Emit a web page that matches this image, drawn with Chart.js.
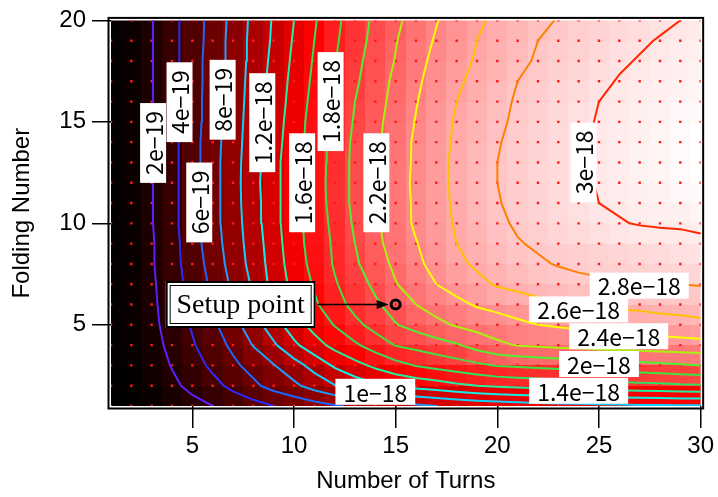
<!DOCTYPE html>
<html>
<head>
<meta charset="utf-8">
<script src="https://cdn.jsdelivr.net/npm/chart.js@4.4.1/dist/chart.umd.min.js"></script>
<style>
  html, body { margin: 0; padding: 0; background: #fff; }
  #wrap { width: 718px; height: 497px; }
</style>
</head>
<body>
<div id="wrap"><canvas id="sensChart" width="718" height="497"></canvas></div>
<script>
// grid axes
const turns = [1, 2, 3, 4, 5, 6, 7, 8, 9, 10, 11, 12, 13, 14, 15, 16, 17, 18, 19, 20, 21, 22, 23, 24, 25, 26, 27, 28, 29, 30];
const folds = [1, 2, 3, 4, 5, 6, 7, 8, 9, 10, 11, 12, 13, 14, 15, 16, 17, 18, 19, 20];

// sensitivity (x1e-18) for each folding number, one value per number of turns
const fold1  = [0.01,0.02,0.05,0.09,0.14,0.20,0.27,0.33,0.40,0.46, 0.52,0.58,0.63,0.67,0.72,0.76,0.80,0.83,0.86,0.88, 0.90,0.92,0.93,0.94,0.95,0.96,0.97,0.97,0.98,0.98];
const fold2  = [0.01,0.03,0.08,0.16,0.25,0.34,0.45,0.56,0.67,0.76, 0.88,0.99,1.09,1.17,1.23,1.27,1.31,1.36,1.40,1.43, 1.45,1.46,1.48,1.50,1.51,1.53,1.54,1.55,1.57,1.58];
const fold3  = [0.01,0.04,0.11,0.21,0.32,0.44,0.56,0.67,0.79,0.92, 1.07,1.23,1.34,1.44,1.53,1.61,1.66,1.71,1.76,1.81, 1.83,1.85,1.87,1.88,1.90,1.92,1.94,1.96,1.98,2.00];
const fold4  = [0.02,0.05,0.13,0.25,0.38,0.51,0.64,0.81,0.97,1.16, 1.32,1.46,1.57,1.69,1.81,1.86,1.92,1.98,2.08,2.16, 2.21,2.23,2.25,2.26,2.28,2.29,2.30,2.31,2.32,2.33];
const fold5  = [0.02,0.06,0.15,0.28,0.42,0.56,0.73,0.91,1.11,1.31, 1.47,1.61,1.75,1.87,1.99,2.07,2.15,2.22,2.27,2.31, 2.36,2.40,2.42,2.44,2.46,2.48,2.49,2.51,2.53,2.55];
const fold6  = [0.02,0.07,0.16,0.30,0.44,0.59,0.79,0.97,1.21,1.42, 1.57,1.72,1.86,1.97,2.08,2.20,2.28,2.35,2.42,2.46, 2.50,2.54,2.58,2.61,2.62,2.64,2.65,2.67,2.68,2.70];
const fold7  = [0.02,0.07,0.17,0.31,0.47,0.64,0.84,1.03,1.27,1.46, 1.62,1.78,1.91,2.04,2.19,2.30,2.40,2.48,2.55,2.62, 2.66,2.70,2.73,2.76,2.77,2.78,2.79,2.80,2.80,2.81];
const fold8  = [0.02,0.08,0.18,0.33,0.49,0.68,0.88,1.07,1.29,1.50, 1.66,1.82,1.97,2.11,2.24,2.36,2.46,2.56,2.63,2.68, 2.73,2.78,2.81,2.83,2.85,2.86,2.87,2.88,2.89,2.90];
const fold9  = [0.02,0.08,0.18,0.33,0.51,0.71,0.90,1.09,1.31,1.52, 1.68,1.83,2.00,2.15,2.28,2.39,2.50,2.60,2.67,2.73, 2.79,2.82,2.84,2.85,2.87,2.89,2.91,2.93,2.95,2.97];
const fold10 = [0.02,0.08,0.19,0.34,0.53,0.73,0.91,1.11,1.33,1.53, 1.69,1.85,2.03,2.17,2.30,2.43,2.53,2.62,2.69,2.77, 2.82,2.85,2.89,2.92,2.96,2.99,3.01,3.02,3.02,3.03];
const fold11 = [0.02,0.08,0.19,0.34,0.53,0.73,0.92,1.12,1.33,1.53, 1.70,1.87,2.05,2.18,2.31,2.43,2.54,2.63,2.71,2.79, 2.84,2.88,2.92,2.96,3.00,3.02,3.03,3.05,3.06,3.08];
const fold12 = [0.02,0.08,0.19,0.34,0.53,0.73,0.92,1.13,1.34,1.53, 1.70,1.88,2.05,2.18,2.31,2.44,2.54,2.64,2.72,2.80, 2.84,2.88,2.93,2.97,3.01,3.03,3.05,3.07,3.10,3.12];
const fold13 = [0.02,0.08,0.19,0.34,0.52,0.72,0.92,1.12,1.33,1.53, 1.70,1.87,2.05,2.17,2.31,2.43,2.54,2.64,2.72,2.80, 2.84,2.89,2.93,2.97,3.01,3.04,3.07,3.09,3.12,3.14];
const fold14 = [0.02,0.08,0.19,0.34,0.52,0.72,0.91,1.11,1.32,1.51, 1.69,1.87,2.04,2.16,2.30,2.43,2.53,2.63,2.71,2.79, 2.84,2.88,2.93,2.97,3.01,3.04,3.07,3.09,3.12,3.15];
const fold15 = [0.02,0.08,0.19,0.34,0.51,0.71,0.90,1.10,1.30,1.50, 1.68,1.85,2.02,2.15,2.28,2.41,2.52,2.62,2.69,2.77, 2.83,2.88,2.92,2.97,3.01,3.03,3.06,3.09,3.11,3.14];
const fold16 = [0.02,0.08,0.19,0.34,0.51,0.70,0.89,1.09,1.28,1.48, 1.66,1.83,2.00,2.13,2.26,2.39,2.50,2.60,2.68,2.75, 2.82,2.86,2.91,2.95,3.00,3.02,3.05,3.07,3.10,3.12];
const fold17 = [0.02,0.08,0.19,0.34,0.51,0.69,0.88,1.08,1.27,1.46, 1.64,1.82,1.97,2.11,2.24,2.37,2.47,2.57,2.65,2.73, 2.80,2.84,2.89,2.93,2.97,3.01,3.03,3.05,3.07,3.09];
const fold18 = [0.02,0.08,0.19,0.34,0.51,0.69,0.87,1.07,1.25,1.44, 1.62,1.79,1.95,2.08,2.21,2.34,2.45,2.54,2.62,2.69, 2.76,2.82,2.86,2.90,2.94,2.98,3.01,3.03,3.05,3.07];
const fold19 = [0.02,0.08,0.19,0.34,0.50,0.68,0.87,1.06,1.23,1.42, 1.60,1.77,1.92,2.06,2.19,2.31,2.42,2.51,2.60,2.67, 2.73,2.80,2.84,2.87,2.91,2.95,2.98,3.01,3.03,3.05];
const fold20 = [0.02,0.09,0.19,0.34,0.50,0.67,0.86,1.05,1.22,1.40, 1.58,1.75,1.90,2.04,2.16,2.28,2.39,2.48,2.57,2.64, 2.70,2.76,2.81,2.85,2.88,2.91,2.94,2.97,3.00,3.02];
const sensitivity = [fold1, fold2, fold3, fold4, fold5, fold6, fold7, fold8, fold9, fold10,
                     fold11, fold12, fold13, fold14, fold15, fold16, fold17, fold18, fold19, fold20];

// contour levels (x1e-18)
const contourLevels = [0.2, 0.4, 0.6, 0.8, 1.0, 1.2, 1.4, 1.6, 1.8, 2.0, 2.2, 2.4, 2.6, 2.8, 3.0];
const xTickValues = [5, 10, 15, 20, 25, 30];
const yTickValues = [5, 10, 15, 20];
const setupPoint = { turns: 15, folds: 6 };

const levelColors = ['#5a1eff', '#2a2aff', '#1a66ff', '#1a9eff', '#10d0ff', '#10f0e0', '#20f0a0', '#30e060',
                     '#40e040', '#50f030', '#a8f010', '#ffff00', '#ffc000', '#ff8000', '#ff2800'];

// label anchors: level, turns, folds, vertical?
const contourLabels = [
  [0.2, 3.07, 13.96, true],
  [0.4, 4.37, 15.97, true],
  [0.6, 5.34, 11.03, true],
  [0.8, 6.49, 16.09, true],
  [1.2, 8.44, 14.96, true],
  [1.6, 10.4, 12.0, true],
  [1.8, 11.8, 16.0, true],
  [2.2, 14.05, 12.0, true],
  [3.0, 24.24, 13.0, true],
  [1.0, 14.0, 1.70, false],
  [1.4, 24.0, 1.75, false],
  [2.0, 25.0, 3.07, false],
  [2.4, 25.97, 4.44, false],
  [2.6, 24.0, 5.76, false],
  [2.8, 26.98, 6.93, false]
];

function levelText(v) {
  if (v < 1) return Math.round(v * 10) + 'e\u221219';
  return (+v.toFixed(1)) + 'e\u221218';
}

// black -> red -> white colour table
const allValues = sensitivity.flat();
const vMin = Math.min(...allValues), vMax = Math.max(...allValues);
function heatColor(v) {
  const t = (v - vMin) / (vMax - vMin);
  if (t < 0.5) return `rgb(${Math.round(510 * t)},0,0)`;
  const w = Math.round(510 * (t - 0.5));
  return `rgb(255,${w},${w})`;
}

// marching squares, segments chained into polylines
function traceContour(level) {
  const nx = turns.length, ny = folds.length;
  const pts = new Map();
  const segs = [];
  const ends = [[0, 1], [1, 2], [3, 2], [0, 3]];
  for (let j = 0; j < ny - 1; j++) {
    for (let i = 0; i < nx - 1; i++) {
      const v = [sensitivity[j][i], sensitivity[j][i + 1], sensitivity[j + 1][i + 1], sensitivity[j + 1][i]];
      const xs = [turns[i], turns[i + 1], turns[i + 1], turns[i]];
      const ys = [folds[j], folds[j], folds[j + 1], folds[j + 1]];
      const keys = [`h${i},${j}`, `v${i + 1},${j}`, `h${i},${j + 1}`, `v${i},${j}`];
      const hit = [];
      for (let e = 0; e < 4; e++) {
        const [a, b] = ends[e];
        if ((v[a] >= level) !== (v[b] >= level)) {
          if (!pts.has(keys[e])) {
            const t = (level - v[a]) / (v[b] - v[a]);
            pts.set(keys[e], { x: xs[a] + t * (xs[b] - xs[a]), y: ys[a] + t * (ys[b] - ys[a]) });
          }
          hit.push(keys[e]);
        }
      }
      if (hit.length === 2) {
        segs.push([hit[0], hit[1]]);
      } else if (hit.length === 4) {
        const centre = (v[0] + v[1] + v[2] + v[3]) / 4;
        if ((centre >= level) === (v[0] >= level)) segs.push([hit[0], hit[1]], [hit[2], hit[3]]);
        else segs.push([hit[0], hit[3]], [hit[1], hit[2]]);
      }
    }
  }

  const adj = new Map();
  segs.forEach((s, k) => s.forEach(key => {
    if (!adj.has(key)) adj.set(key, []);
    adj.get(key).push(k);
  }));
  const used = new Array(segs.length).fill(false);
  const walk = (startKey, chain) => {
    let key = startKey;
    for (;;) {
      const next = (adj.get(key) || []).find(k => !used[k]);
      if (next === undefined) break;
      used[next] = true;
      const s = segs[next];
      key = s[0] === key ? s[1] : s[0];
      chain.push(key);
    }
  };
  const lines = [];
  segs.forEach((s, k) => {
    if (used[k]) return;
    used[k] = true;
    const fwd = [s[0], s[1]];
    walk(s[1], fwd);
    const back = [];
    walk(s[0], back);
    lines.push(back.reverse().concat(fwd).map(key => pts.get(key)));
  });
  return lines;
}

const contourSets = contourLevels.map((level, n) => {
  const data = [];
  traceContour(level).forEach(line => {
    if (data.length) data.push({ x: null, y: null });
    data.push(...line);
  });
  return {
    label: levelText(level),
    data,
    showLine: true,
    spanGaps: false,
    borderColor: levelColors[n],
    borderWidth: 2,
    borderCapStyle: 'round',
    borderJoinStyle: 'round',
    tension: 0,
    pointRadius: 0,
    order: 2
  };
});

const gridDots = [];
folds.forEach(f => turns.forEach(t => gridDots.push({ x: t, y: f })));

// image cells: centred on each turn, each row spans the band just below its folding number
const heatmapPlugin = {
  id: 'heatmap',
  beforeDatasetsDraw(chart) {
    const { ctx, chartArea: a, scales: { x, y } } = chart;
    ctx.save();
    ctx.beginPath();
    ctx.rect(a.left, a.top, a.right - a.left, a.bottom - a.top);
    ctx.clip();
    sensitivity.forEach((row, j) => row.forEach((v, i) => {
      const x0 = Math.round(x.getPixelForValue(turns[i] - 0.5));
      const x1 = Math.round(x.getPixelForValue(turns[i] + 0.5));
      const y0 = Math.round(y.getPixelForValue(folds[j]));
      const y1 = Math.round(y.getPixelForValue(folds[j] - 1));
      ctx.fillStyle = heatColor(v);
      ctx.fillRect(x0, y0, x1 - x0, y1 - y0);
    }));
    ctx.restore();
  }
};

const overlayPlugin = {
  id: 'overlay',
  afterDatasetsDraw(chart) {
    const { ctx, scales: { x, y } } = chart;
    ctx.save();
    // contour labels
    ctx.font = '23px "Noto Sans CJK JP"';
    ctx.textAlign = 'center';
    ctx.textBaseline = 'middle';
    contourLabels.forEach(([lv, t, f, vertical]) => {
      const text = levelText(lv);
      const w = ctx.measureText(text).width + 16, h = 26;
      ctx.save();
      ctx.translate(x.getPixelForValue(t), y.getPixelForValue(f));
      if (vertical) ctx.rotate(-Math.PI / 2);
      ctx.fillStyle = '#fff';
      ctx.fillRect(-w / 2, -h / 2, w, h);
      ctx.fillStyle = '#000';
      ctx.fillText(text, 0, 1);
      ctx.restore();
    });

    // setup point tag with arrow
    const sx = x.getPixelForValue(setupPoint.turns), sy = y.getPixelForValue(setupPoint.folds);
    const bw = 150, bh = 47, bx = sx - 80 - bw, by = Math.round(sy - bh / 2);
    ctx.fillStyle = '#fff';
    ctx.fillRect(bx, by, bw, bh);
    ctx.strokeStyle = '#000';
    ctx.lineWidth = 2;
    ctx.strokeRect(bx + 1, by + 1, bw - 2, bh - 2);
    ctx.lineWidth = 1;
    ctx.strokeRect(bx + 4.5, by + 4.5, bw - 9, bh - 9);
    ctx.fillStyle = '#000';
    ctx.font = '28px "Liberation Serif"';
    ctx.fillText('Setup point', bx + bw / 2, by + bh / 2 + 1);
    ctx.lineWidth = 1.5;
    ctx.beginPath();
    ctx.moveTo(bx + bw + 2, sy);
    ctx.lineTo(sx - 16, sy);
    ctx.stroke();
    ctx.beginPath();
    ctx.moveTo(sx - 7, sy);
    ctx.lineTo(sx - 19, sy - 4.5);
    ctx.lineTo(sx - 19, sy + 4.5);
    ctx.closePath();
    ctx.fill();
    ctx.restore();
  },
  afterDraw(chart) {
    const { ctx, chartArea: a } = chart;
    ctx.save();
    ctx.strokeStyle = '#000';
    ctx.lineWidth = 2;
    ctx.strokeRect(a.left - 2.5, a.top - 2.5, a.right - a.left + 5, a.bottom - a.top + 5);
    ctx.restore();
  }
};

const axisFont = { family: 'Liberation Sans', size: 24 };
const titleFont = { family: 'Liberation Sans', size: 24 };

new Chart(document.getElementById('sensChart'), {
  type: 'scatter',
  data: {
    datasets: [
      {
        label: 'Setup point',
        data: [{ x: setupPoint.turns, y: setupPoint.folds }],
        pointRadius: 4.5,
        pointBorderWidth: 3,
        pointBorderColor: '#000',
        pointBackgroundColor: 'rgba(0,0,0,0)',
        order: 1
      },
      ...contourSets,
      {
        label: 'grid',
        data: gridDots,
        pointStyle: 'rect',
        pointRadius: 1.7,
        pointBorderWidth: 0,
        pointBackgroundColor: '#ff1a1a',
        order: 3
      }
    ]
  },
  options: {
    responsive: false,
    animation: false,
    devicePixelRatio: 1,
    layout: { padding: { top: 10, right: 13, left: 0, bottom: 0 } },
    plugins: { legend: { display: false }, tooltip: { enabled: false } },
    scales: {
      x: {
        type: 'linear', min: 1, max: 30,
        border: { display: false },
        grid: { drawOnChartArea: false, drawTicks: true, tickLength: 22, color: '#000', lineWidth: 1.5 },
        ticks: { color: '#000', font: axisFont, padding: 4, maxRotation: 0, autoSkip: false },
        afterBuildTicks: s => { s.ticks = xTickValues.map(v => ({ value: v })); },
        afterFit: s => { s.height = 91; },
        title: { display: true, text: 'Number of Turns', color: '#000', font: titleFont, padding: { top: 0, bottom: 1 } }
      },
      y: {
        type: 'linear', min: 1, max: 20,
        border: { display: false },
        grid: { drawOnChartArea: false, drawTicks: true, tickLength: 19, color: '#000', lineWidth: 1.5 },
        ticks: { color: '#000', font: axisFont, padding: 6, autoSkip: false },
        afterBuildTicks: s => { s.ticks = yTickValues.map(v => ({ value: v })); },
        afterFit: s => { s.width = 111; },
        title: { display: true, text: 'Folding Number', color: '#000', font: titleFont, padding: { top: 8, bottom: 0 } }
      }
    }
  },
  plugins: [heatmapPlugin, overlayPlugin]
});
</script>
</body>
</html>
